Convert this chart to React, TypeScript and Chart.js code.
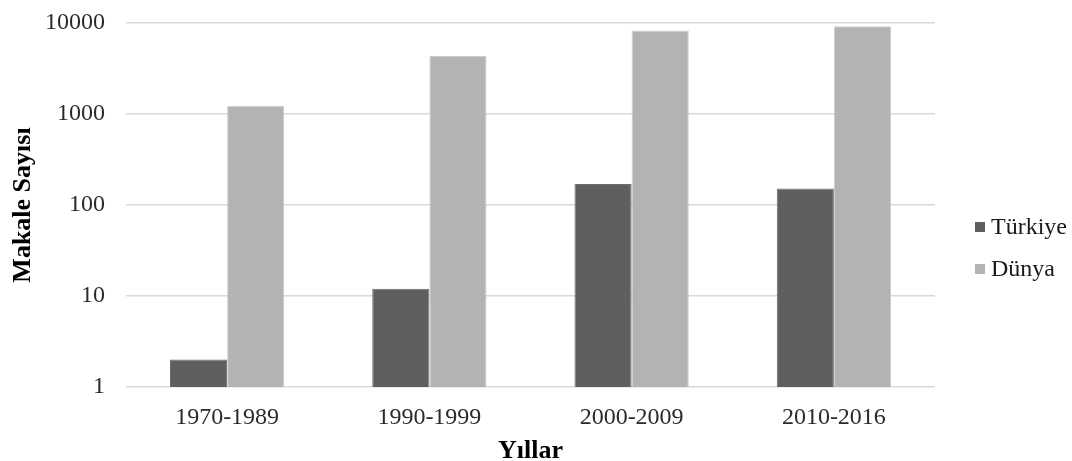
import React, { useEffect, useRef } from "react";
import { Chart, registerables } from "chart.js";

Chart.register(...registerables);

const categories = ["1970-1989", "1990-1999", "2000-2009", "2010-2016"];
const turkiyeValues = [2, 12, 170, 152];
const dunyaValues = [1230, 4350, 8250, 9200];
const seriesLabels = ["Türkiye", "Dünya"];
const seriesColors = ["#5f5f5f", "#b3b3b3"];
const yTicks = [1, 10, 100, 1000, 10000];
const yTitle = "Makale Sayısı";
const xTitle = "Yıllar";

const FONT = "'Liberation Serif', 'Times New Roman', serif";

const legendPlugin = {
  id: "customLegend",
  afterDraw(chart: any) {
    const ctx = chart.ctx;
    const startY = 227;
    const gap = 42;
    ctx.save();
    chart.data.datasets.forEach((ds: any, i: number) => {
      const y = startY + i * gap;
      ctx.fillStyle = ds.backgroundColor;
      ctx.fillRect(975, y - 5, 10, 10);
      ctx.fillStyle = "#1a1a1a";
      ctx.font = `24px ${FONT}`;
      ctx.textBaseline = "middle";
      ctx.textAlign = "left";
      ctx.fillText(ds.label, 991, y + 1);
    });
    ctx.restore();
  },
};

export default function App() {
  const canvasRef = useRef<HTMLCanvasElement>(null);

  useEffect(() => {
    const canvas = canvasRef.current;
    if (!canvas) return;
    const chart = new Chart(canvas, {
      type: "bar",
      data: {
        labels: categories,
        datasets: [
          {
            label: seriesLabels[0],
            data: turkiyeValues,
            backgroundColor: seriesColors[0],
            borderColor: "#6e6e6e",
            borderWidth: 1,
            barPercentage: 1,
            categoryPercentage: 0.565,
          },
          {
            label: seriesLabels[1],
            data: dunyaValues,
            backgroundColor: seriesColors[1],
            borderColor: "#cdcdcd",
            borderWidth: 1,
            barPercentage: 1,
            categoryPercentage: 0.565,
          },
        ],
      },
      options: {
        animation: false,
        responsive: false,
        maintainAspectRatio: false,
        layout: { padding: { top: 23, right: 137, bottom: 0, left: 0 } },
        plugins: {
          legend: { display: false },
          tooltip: { enabled: false },
        },
        scales: {
          x: {
            grid: { display: false, drawTicks: false },
            border: { display: false },
            ticks: {
              color: "#2a2a2a",
              font: { family: FONT, size: 24 },
              padding: 16,
              maxRotation: 0,
            },
            title: {
              display: true,
              text: xTitle,
              color: "#000",
              font: { family: FONT, size: 26, weight: "bold" },
              padding: { top: 0, bottom: -6 },
            },
            afterFit: (s: any) => {
              s.height = 74;
              s.paddingLeft = 0;
              s.paddingRight = 0;
            },
          },
          y: {
            type: "logarithmic",
            min: 1,
            max: 10000,
            grid: { color: "#d9d9d9", lineWidth: 1.5, drawTicks: false },
            border: { display: false },
            afterBuildTicks: (s: any) => {
              s.ticks = yTicks.map((v) => ({ value: v }));
            },
            ticks: {
              color: "#2a2a2a",
              font: { family: FONT, size: 24 },
              padding: 21,
              callback: (v: any) => String(v),
            },
            title: {
              display: true,
              text: yTitle,
              color: "#000",
              font: { family: FONT, size: 26, weight: "bold" },
              padding: { top: 8, bottom: 0 },
            },
            afterFit: (s: any) => {
              s.width = 126;
              s.paddingTop = 0;
              s.paddingBottom = 0;
            },
          },
        },
      },
      plugins: [legendPlugin],
    });
    return () => chart.destroy();
  }, []);

  return (
    <div style={{ position: "fixed", left: 0, top: 0, width: 1072, height: 461, background: "#fff" }}>
      <canvas ref={canvasRef} width={1072} height={461} style={{ display: "block" }} />
    </div>
  );
}
